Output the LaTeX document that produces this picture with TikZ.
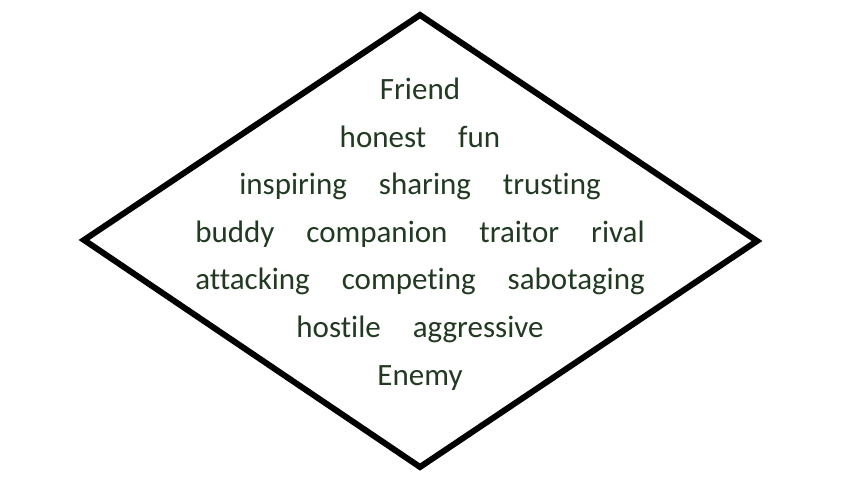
\documentclass[tikz,border=0pt]{standalone}
\usepackage{fontspec}
\setmainfont{Carlito}[Ligatures=NoCommon]
\definecolor{txt}{HTML}{213A21}
\begin{document}
\begin{tikzpicture}[x=1pt,y=1pt,
  edge/.style={line width=6pt, line join=miter, black},
  word/.style={anchor=base, inner sep=0pt, text=txt, font=\fontsize{31}{31}\selectfont}]
\useasboundingbox (0,0) rectangle (842,-502);
\fill[white] (0,0) rectangle (842,-502);
\coordinate (T) at (420,-15);
\coordinate (L) at (84,-240);
\coordinate (R) at (757,-241);
\coordinate (B) at (420,-467);
\draw[edge] (T) -- (R) -- (B) -- (L) -- cycle;
\def\gap{\hspace{32pt}}
\node[word] (r1) at (420,-100) {Friend};
\node[word] (r2) at (420,-147.5) {honest\gap fun};
\node[word] (r3) at (420,-195) {inspiring\gap sharing\gap trusting};
\node[word] (r4) at (420,-242.5) {buddy\gap companion\gap traitor\gap rival};
\node[word] (r5) at (420,-290) {attacking\gap competing\gap sabotaging};
\node[word] (r6) at (420,-337.5) {hostile\gap aggressive};
\node[word] (r7) at (420,-385) {Enemy};
\end{tikzpicture}
\end{document}
